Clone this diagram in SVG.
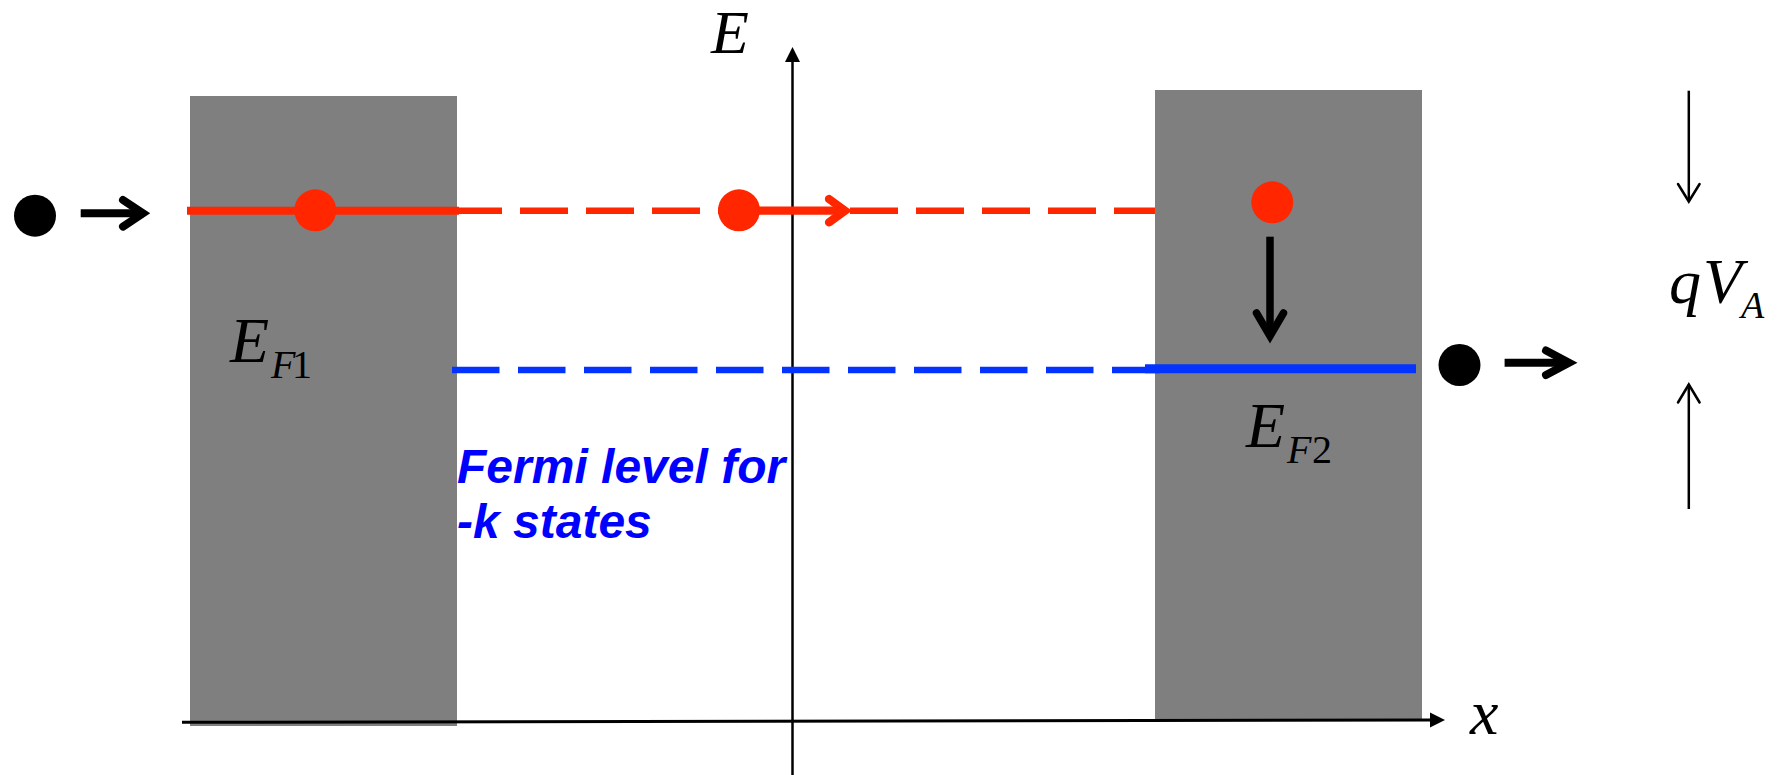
<svg xmlns="http://www.w3.org/2000/svg" width="1779" height="775" viewBox="0 0 1779 775">
<style>
.math{font-family:"Liberation Serif","Times New Roman",serif;font-style:italic;fill:#000}
.up{font-style:normal}
.red{stroke:#ff2600;fill:none}
.blue{stroke:#0433ff;fill:none}
.blk{stroke:#000;fill:none}
.chev{stroke-linecap:round;stroke-linejoin:miter}
.note{font-family:"Liberation Sans",Arial,sans-serif;font-weight:bold;font-style:italic;font-size:48px;fill:#0000ff}
.metal{fill:#7f7f7f}
</style>
<g id="metal-left"><rect class="metal" x="190" y="96" width="267" height="630"/></g>
<g id="metal-right"><rect class="metal" x="1155" y="90" width="267" height="629"/></g>
<g id="axes">
<line class="blk" x1="182" y1="722.3" x2="1432" y2="720" stroke-width="3"/>
<polygon points="1445,720 1430,712.5 1430,727.5" fill="#000"/>
<line class="blk" x1="792.5" y1="775" x2="792.5" y2="58" stroke-width="2.5"/>
<polygon points="792.5,47 785,62 800,62" fill="#000"/>
</g>
<g id="connectors">
<line class="red" x1="187" y1="210.7" x2="459" y2="210.7" stroke-width="8"/>
<line class="red" x1="454" y1="210.7" x2="1155" y2="210.7" stroke-width="6.5" stroke-dasharray="48 18"/>
<line class="red" x1="739" y1="210.7" x2="846" y2="210.7" stroke-width="8.3"/>
<polyline class="red chev" points="829,199 845,210.7 829,222.4" stroke-width="8.3"/>
<line class="blue" x1="452" y1="370" x2="1160" y2="370" stroke-width="6.5" stroke-dasharray="47.5 18.5"/>
<line class="blue" x1="1145" y1="368.7" x2="1416" y2="368.7" stroke-width="9"/>
<line class="blk" x1="80.7" y1="213.3" x2="144" y2="213.3" stroke-width="8"/>
<polyline class="blk chev" points="123,200 143,213.3 123,226.6" stroke-width="8"/>
<line class="blk" x1="1270" y1="236.7" x2="1270" y2="336" stroke-width="7.5"/>
<polyline class="blk chev" points="1256.5,313 1270,336 1283.5,313" stroke-width="7.5"/>
<line class="blk" x1="1504.6" y1="362.7" x2="1569" y2="362.7" stroke-width="8"/>
<polyline class="blk chev" points="1546,350.5 1569,362.7 1546,375" stroke-width="8"/>
<line class="blk" x1="1688.8" y1="90.7" x2="1688.8" y2="201" stroke-width="2.5"/>
<polyline class="blk chev" points="1678,184 1688.8,201.5 1699.6,184" stroke-width="2.5"/>
<line class="blk" x1="1688.8" y1="509" x2="1688.8" y2="384.5" stroke-width="2.5"/>
<polyline class="blk chev" points="1678,402.5 1688.8,384.5 1699.6,402.5" stroke-width="2.5"/>
</g>
<g id="electron-left-in"><circle cx="35" cy="215.7" r="21" fill="#000"/></g>
<g id="electron-red-1"><circle cx="315.3" cy="210.3" r="21" fill="#ff2600"/></g>
<g id="electron-red-2"><circle cx="739" cy="210.3" r="21" fill="#ff2600"/></g>
<g id="electron-red-3"><circle cx="1272.3" cy="202.3" r="21" fill="#ff2600"/></g>
<g id="electron-right-out"><circle cx="1459.5" cy="365" r="21" fill="#000"/></g>
<g id="label-E"><text class="math" x="711" y="53" font-size="62">E</text></g>
<g id="label-x"><text class="math" x="1470" y="734" font-size="64">x</text></g>
<g id="label-EF1"><text class="math" y="361.7" font-size="64"><tspan x="230">E</tspan><tspan x="271" y="378" font-size="40">F</tspan><tspan class="up" x="292" y="378" font-size="40">1</tspan></text></g>
<g id="label-EF2"><text class="math" y="446.7" font-size="64"><tspan x="1246">E</tspan><tspan x="1287" y="462.7" font-size="40">F</tspan><tspan class="up" x="1312" y="462.7" font-size="40">2</tspan></text></g>
<g id="label-qVA"><text class="math" y="303.3" font-size="64"><tspan x="1669">q</tspan><tspan x="1703">V</tspan><tspan x="1741" y="318.3" font-size="38">A</tspan></text></g>
<g id="label-fermi"><text class="note" x="457" y="482.7">Fermi level for</text><text class="note" x="457" y="538.3">-k states</text></g>
</svg>
